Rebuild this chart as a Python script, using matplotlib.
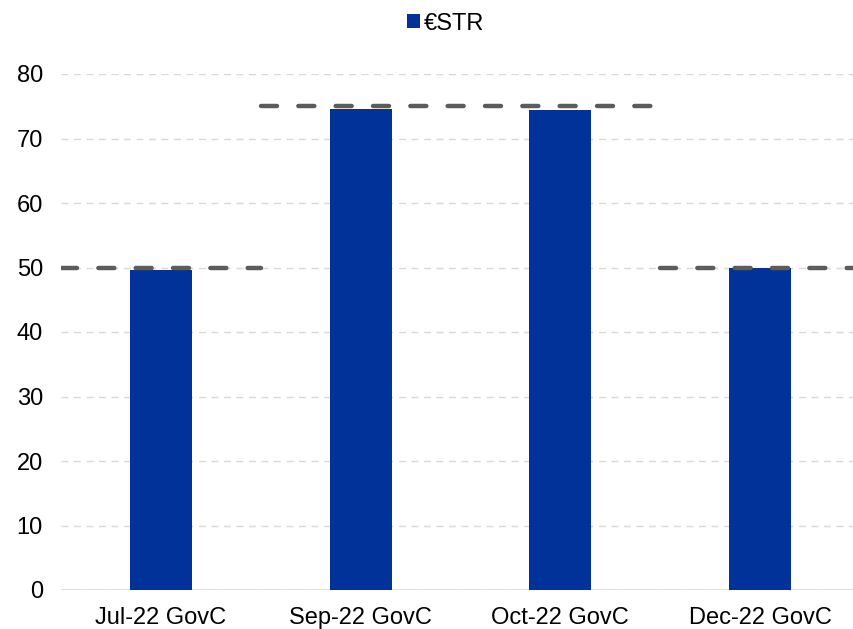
import numpy as np
import matplotlib.pyplot as plt

plt.rcParams['font.family'] = ['Liberation Sans', 'DejaVu Sans']

# data
categories = ["Jul-22 GovC", "Sep-22 GovC", "Oct-22 GovC", "Dec-22 GovC"]
estr = [49.6, 74.6, 74.4, 49.9]
hike_level = [50, 75, 75, 50]

fig = plt.figure(figsize=(8.54, 6.29), dpi=100)
ax = fig.add_axes([61 / 854, 1 - 590 / 629, 1 - 61 / 854, (590 - 74) / 629])

x = np.arange(len(categories))
ax.bar(x, estr, width=0.31, color="#003299", label="€STR", zorder=3)

# dashed reference levels, merged over consecutive equal values
start = 0
for i in range(1, len(hike_level) + 1):
    if i == len(hike_level) or hike_level[i] != hike_level[start]:
        ax.plot([start - 0.5, i - 0.5], [hike_level[start]] * 2, color="#5c5c5c",
                lw=3.2, dashes=(3.6, 4.8), dash_capstyle="round", zorder=4)
        start = i

ax.set_xlim(-0.5, 3.47)
ax.set_ylim(0, 80)
ax.set_yticks(np.arange(0, 81, 10))
ax.set_xticks(x)
ax.set_xticklabels(categories)
ax.yaxis.grid(True, color="#d9d9d9", lw=1, linestyle=(0, (5, 4)), zorder=0)
ax.axhline(0, color="#d9d9d9", lw=1.2, zorder=2)
for s in ax.spines.values():
    s.set_visible(False)
ax.tick_params(axis="both", length=0, labelsize=17, colors="black")
ax.tick_params(axis="y", pad=13)
ax.tick_params(axis="x", pad=12)

ax.legend(loc="upper center", bbox_to_anchor=(0.5 - 0.5 * 0.03, 1.16), frameon=False,
          fontsize=17, handlelength=0.55, handleheight=0.55, handletextpad=0.15)

fig.savefig("out.png", dpi=100)
